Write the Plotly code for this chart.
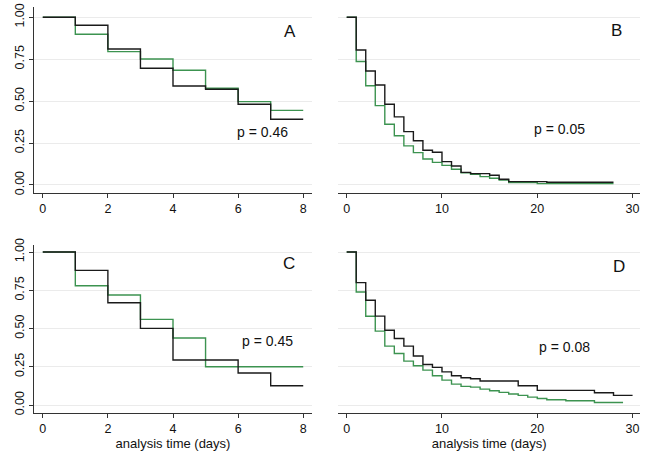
import plotly.graph_objects as go

W, H = 647, 463

# ---------------- data ----------------
# Panel A (days 0-8)
a_time = [0, 1, 2, 3, 4, 5, 6, 7, 8]
a_black = [1.0, 0.952, 0.811, 0.696, 0.590, 0.571, 0.481, 0.392, 0.392]
a_green = [1.0, 0.899, 0.795, 0.751, 0.684, 0.577, 0.497, 0.445, 0.445]

# Panel B (days 0-28)
b_time_black = [0, 1, 2, 3, 4, 5, 6, 7, 8, 9, 10, 11, 12, 13, 15, 16, 17, 21, 28]
b_black = [1.0, 0.805, 0.680, 0.596, 0.481, 0.406, 0.318, 0.264, 0.207, 0.195,
           0.139, 0.113, 0.075, 0.068, 0.058, 0.034, 0.020, 0.016, 0.016]
b_time_green = [0, 1, 2, 3, 4, 5, 6, 7, 8, 9, 10, 11, 12, 13, 14, 15, 16, 17, 20, 28]
b_green = [1.0, 0.736, 0.592, 0.473, 0.362, 0.294, 0.233, 0.193, 0.155, 0.135,
           0.117, 0.094, 0.072, 0.064, 0.050, 0.040, 0.030, 0.014, 0.008, 0.008]

# Panel C (days 0-8)
c_time = [0, 1, 2, 3, 4, 5, 6, 7, 8]
c_black = [1.0, 0.880, 0.669, 0.501, 0.294, 0.294, 0.209, 0.126, 0.126]
c_green = [1.0, 0.780, 0.719, 0.560, 0.438, 0.250, 0.250, 0.250, 0.250]

# Panel D (days 0-30)
d_time_black = [0, 1, 2, 3, 4, 5, 6, 7, 8, 9, 10, 11, 12, 13, 14, 18, 20, 26, 28, 30]
d_black = [1.0, 0.800, 0.685, 0.581, 0.489, 0.435, 0.385, 0.321, 0.265, 0.246,
           0.217, 0.191, 0.178, 0.172, 0.157, 0.126, 0.096, 0.080, 0.063, 0.063]
d_time_green = [0, 1, 2, 3, 4, 5, 6, 7, 8, 9, 10, 11, 12, 13, 14, 15, 16, 17, 18,
                19, 20, 21, 23, 26, 29]
d_green = [1.0, 0.739, 0.580, 0.483, 0.385, 0.337, 0.287, 0.257, 0.228, 0.191,
           0.163, 0.137, 0.122, 0.117, 0.104, 0.093, 0.083, 0.072, 0.063, 0.052,
           0.043, 0.035, 0.028, 0.017, 0.017]

panel_letters = ["A", "B", "C", "D"]
p_values = ["p = 0.46", "p = 0.05", "p = 0.45", "p = 0.08"]
y_ticks = [0, 0.25, 0.5, 0.75, 1.0]
y_ticklabels = ["0.00", "0.25", "0.50", "0.75", "1.00"]
x_ticks_short = [0, 2, 4, 6, 8]
x_ticks_long = [0, 10, 20, 30]
x_title = "analysis time (days)"

# ---------------- styling ----------------
BLACK = "#1a1a1a"
GREEN = "#3c9350"
GRID = "#ebebeb"
AXIS = "#333333"
FONT = "Liberation Sans, Arial, Helvetica, sans-serif"

fig = go.Figure()

panels = [
    ("x", "y", a_time, a_green, a_time, a_black),
    ("x2", "y2", b_time_green, b_green, b_time_black, b_black),
    ("x3", "y3", c_time, c_green, c_time, c_black),
    ("x4", "y4", d_time_green, d_green, d_time_black, d_black),
]
for xa, ya, tg, sg, tb, sb in panels:
    fig.add_trace(go.Scatter(x=tg, y=sg, mode="lines", line=dict(color=GREEN, width=1.4, shape="hv"),
                             xaxis=xa, yaxis=ya, showlegend=False, hoverinfo="x+y"))
    fig.add_trace(go.Scatter(x=tb, y=sb, mode="lines", line=dict(color=BLACK, width=1.4, shape="hv"),
                             xaxis=xa, yaxis=ya, showlegend=False, hoverinfo="x+y"))


def px(x):
    return x / W


def py(y):
    return 1 - y / H


left_dom = [px(34.3), px(311.7)]
right_dom = [px(338.3), px(640.0)]
top_dom = [py(192.7), py(6.7)]
bot_dom = [py(412.7), py(245.0)]

tickfont = dict(family=FONT, size=12.5, color="#111111")


def xaxis_cfg(domain, anchor, rng, ticks, title=None):
    d = dict(domain=domain, anchor=anchor, range=rng, tickvals=ticks,
             showline=True, linecolor=AXIS, linewidth=1, ticks="outside",
             ticklen=4, tickcolor=AXIS, tickwidth=1, showgrid=False, zeroline=False,
             tickfont=tickfont, automargin=False, fixedrange=True)
    if title:
        d["title"] = dict(text=title, font=dict(family=FONT, size=13, color="#111111"), standoff=2)
    return d


def yaxis_cfg(domain, anchor, rng, labels=True):
    d = dict(domain=domain, anchor=anchor, range=rng, tickvals=y_ticks,
             showgrid=True, gridcolor=GRID, gridwidth=1, zeroline=False,
             automargin=False, fixedrange=True)
    if labels:
        d.update(ticktext=y_ticklabels, showline=True, linecolor=AXIS, linewidth=1,
                 ticks="outside", ticklen=4, tickcolor=AXIS, tickwidth=1,
                 tickangle=-90, tickfont=tickfont)
    else:
        d.update(showticklabels=False, showline=False, ticks="")
    return d


yr_top = [-0.046, 1.063]
yr_bot = [-0.050, 1.046]
xr_short = [-0.26, 8.26]
xr_long = [-0.88, 30.78]

fig.update_layout(
    width=W, height=H,
    margin=dict(l=0, r=0, t=0, b=0),
    paper_bgcolor="white", plot_bgcolor="white",
    font=dict(family=FONT, color="#111111"),
    xaxis=xaxis_cfg(left_dom, "y", xr_short, x_ticks_short),
    yaxis=yaxis_cfg(top_dom, "x", yr_top),
    xaxis2=xaxis_cfg(right_dom, "y2", xr_long, x_ticks_long),
    yaxis2=yaxis_cfg(top_dom, "x2", yr_top, labels=False),
    xaxis3=xaxis_cfg(left_dom, "y3", xr_short, x_ticks_short, x_title),
    yaxis3=yaxis_cfg(bot_dom, "x3", yr_bot),
    xaxis4=xaxis_cfg(right_dom, "y4", xr_long, x_ticks_long, x_title),
    yaxis4=yaxis_cfg(bot_dom, "x4", yr_bot, labels=False),
)

letter_pos = [(290, 31.7), (616, 30), (289.3, 263.3), (619, 266)]
p_pos = [(262.5, 132.5), (559.5, 129.3), (267.8, 340.7), (564.5, 347.3)]
for letter, (lx, ly) in zip(panel_letters, letter_pos):
    fig.add_annotation(x=px(lx), y=py(ly), xref="paper", yref="paper", text=letter,
                       showarrow=False, xanchor="center", yanchor="middle",
                       font=dict(family=FONT, size=17, color="#111111"))
for ptxt, (qx, qy) in zip(p_values, p_pos):
    fig.add_annotation(x=px(qx), y=py(qy), xref="paper", yref="paper", text=ptxt,
                       showarrow=False, xanchor="center", yanchor="middle",
                       font=dict(family=FONT, size=14, color="#111111"))

fig.write_html(
    "out.html",
    config={"displayModeBar": False},
    post_script="document.body.style.margin='0';document.body.style.overflow='hidden';",
)
